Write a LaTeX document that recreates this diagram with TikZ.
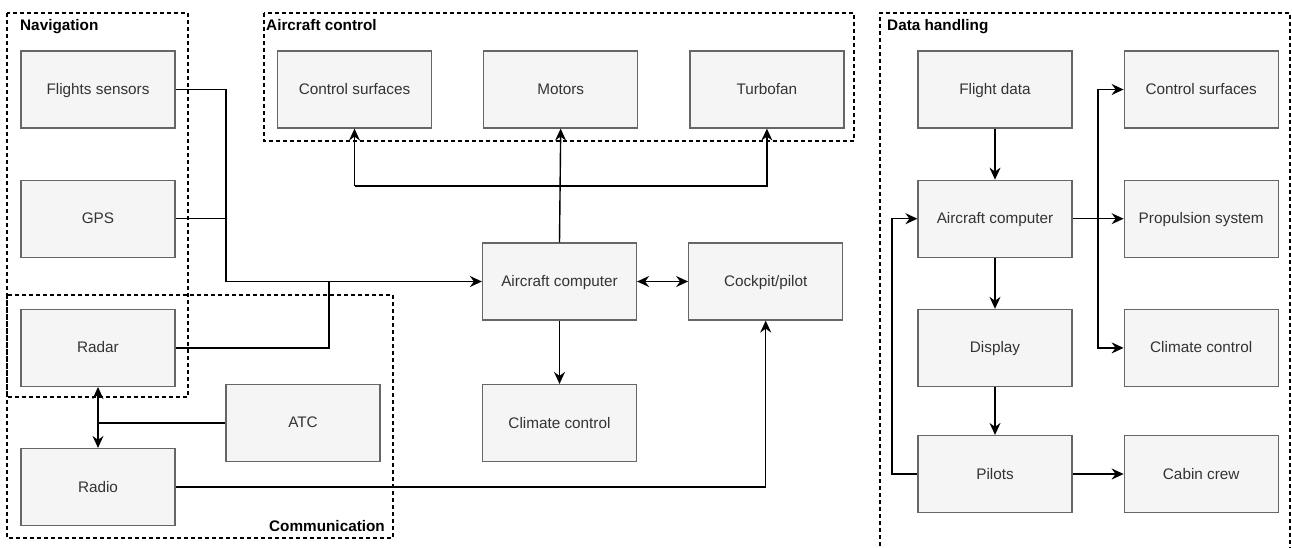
\documentclass[tikz,border=0pt]{standalone}
\usepackage{fontspec}
\setmainfont{Liberation Sans}
\usepackage{xcolor}
\usepackage{tikz}
\usetikzlibrary{arrows.meta, positioning}

\definecolor{boxfill}{HTML}{F5F5F5}
\definecolor{boxline}{HTML}{666666}
\definecolor{boxtext}{HTML}{333333}

\begin{document}
\begin{tikzpicture}[
    x=1pt, y=-1pt,
    font=\fontsize{15.3}{18}\selectfont,
    block/.style={rectangle, draw=boxline, fill=boxfill, text=boxtext, line width=1.2pt,
                  minimum width=154pt, minimum height=77pt, inner sep=0pt, text depth=1pt},
    group/.style={draw=black, line width=1.3pt, dash pattern=on 4pt off 3pt},
    grouptitle/.style={font=\fontsize{15.3}{18}\selectfont\bfseries, inner sep=0pt},
    link/.style={draw=black, line width=1.4pt},
    arr/.style={link, -{Stealth[length=12pt, width=11pt, inset=4pt]}},
    darr/.style={link, {Stealth[length=12pt, width=11pt, inset=4pt]}-{Stealth[length=12pt, width=11pt, inset=4pt]}},
    node distance=51pt
  ]
  \useasboundingbox (0,0) rectangle (1292,547);
  \clip (0,0) rectangle (1292,547);

  % groups
  \draw[group] (7,13) rectangle (188,397);
  \draw[group] (264,13) rectangle (854,141);
  \draw[group] (7,295) rectangle (393,538);
  \draw[group] (880,560) -- (880,13) -- (1290,13) -- (1290,560);
  \node[grouptitle, anchor=north west] (navtitle) at (20,19) {Navigation};
  \node[grouptitle, anchor=north west] (ctltitle) at (266,19) {Aircraft control};
  \node[grouptitle, anchor=north west] (datatitle) at (887,19) {Data handling};
  \node[grouptitle, anchor=south east] (comtitle) at (385,532) {Communication};

  % navigation / communication
  \node[block] (sensors) at (98,89.5) {Flights sensors};
  \node[block, below=of sensors] (gps) {GPS};
  \node[block, below=of gps] (radar) {Radar};
  \node[block] (radio) at (98,487) {Radio};
  \node[block] (atc) at (303,423) {ATC};

  % aircraft control
  \node[block] (surfaces) at (354.5,89.5) {Control surfaces};
  \node[block, right=51pt of surfaces] (motors) {Motors};
  \node[block, right=51pt of motors] (turbofan) {Turbofan};
  \node[block] (computer) at (559.5,281.5) {Aircraft computer};
  \node[block, right=51pt of computer] (cockpit) {Cockpit/pilot};
  \node[block] (climate) at (559.5,423) {Climate control};

  % data handling
  \node[block] (flightdata) at (995,89.5) {Flight data};
  \node[block, below=of flightdata] (dcomputer) {Aircraft computer};
  \node[block, below=of dcomputer] (display) {Display};
  \node[block] (pilots) at (995,474) {Pilots};
  \node[block, right=51pt of flightdata] (dsurfaces) {Control surfaces};
  \node[block, right=51pt of dcomputer] (propulsion) {Propulsion system};
  \node[block, right=51pt of display] (dclimate) {Climate control};
  \node[block, right=51pt of pilots] (cabin) {Cabin crew};

  % left connectors
  \coordinate (navbus) at (226,281.5);
  \draw[link] (sensors.east) -| (navbus);
  \draw[link] (gps.east) -| (navbus);
  \draw[link] (radar.east) -| (329,281.5);
  \draw[arr] (navbus) -- (computer.west);
  \draw[darr] (radar.south) -- (radio.north);
  \draw[link] (atc.west) -- (radar.south |- atc.west);
  \draw[arr] (radio.east) -| (cockpit.south);

  % centre connectors
  \draw[arr] (computer.north) -- (motors.south);
  \draw[arr] (surfaces.south |- 0,186) -- (surfaces.south);
  \draw[arr] (surfaces.south |- 0,186) -| (turbofan.south);
  \draw[darr] (computer.east) -- (cockpit.west);
  \draw[arr] (computer.south) -- (climate.north);

  % data handling connectors
  \coordinate (split) at (1098,218);
  \draw[arr] (flightdata.south) -- (dcomputer.north);
  \draw[arr] (dcomputer.east) -- (propulsion.west);
  \draw[arr] (split) |- (dsurfaces.west);
  \draw[arr] (split) |- (dclimate.west);
  \draw[arr] (dcomputer.south) -- (display.north);
  \draw[arr] (display.south) -- (pilots.north);
  \draw[arr] (pilots.east) -- (cabin.west);
  \draw[arr] (pilots.west) -- (892,474) |- (dcomputer.west);
\end{tikzpicture}
\end{document}
